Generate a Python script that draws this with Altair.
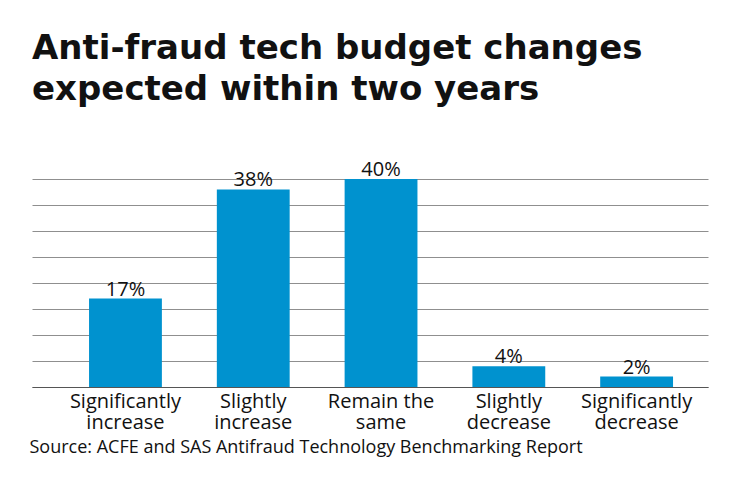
import altair as alt
import pandas as pd

categories = ["Significantly increase", "Slightly increase", "Remain the same",
              "Slightly decrease", "Significantly decrease"]
values = [17, 38, 40, 4, 2]
labels = ["17%", "38%", "40%", "4%", "2%"]

df = pd.DataFrame({"cat": categories, "val": values, "lab": labels})

FONT = "Open Sans"
BLUE = "#0092CF"

x = alt.X("cat:N", sort=categories,
          scale=alt.Scale(paddingInner=0.43, paddingOuter=0.36, align=0.62),
          axis=alt.Axis(title="Source: ACFE and SAS Antifraud Technology Benchmarking Report",
                        titleAnchor="start", titleX=-3, titleY=65, titleBaseline="alphabetic",
                        titleFont=FONT, titleFontSize=18, titleFontWeight="normal", titleColor="#111",
                        labelAngle=0, labelFont=FONT, labelFontSize=20, labelColor="#111",
                        labelLineHeight=21, labelPadding=4, ticks=False,
                        domainColor="#555", domainWidth=1,
                        labelExpr="[slice(datum.label,0,lastindexof(datum.label,' ')), slice(datum.label,lastindexof(datum.label,' ')+1)]"))
y = alt.Y("val:Q", scale=alt.Scale(domain=[0, 40], nice=False),
          axis=alt.Axis(title=None, values=[0, 5, 10, 15, 20, 25, 30, 35, 40], labels=False,
                        ticks=False, domain=False, grid=True, gridColor="#8f8f8f", gridWidth=1))

base = alt.Chart(df).encode(x=x, y=y)
bars = base.mark_bar(color=BLUE)
text = base.mark_text(baseline="alphabetic", dy=-3, font=FONT, fontSize=20, color="#111").encode(text="lab:N")

chart = alt.layer(bars, text).properties(
    width=676, height=208,
    autosize=alt.AutoSizeParams(type="none"),
    padding={"left": 24, "top": 171, "right": 16, "bottom": 87},
    title=alt.TitleParams(text=["Anti-fraud tech budget changes", "expected within two years"],
                          anchor="start", font="DejaVu Sans", fontSize=34, fontWeight="bold",
                          lineHeight=41, color="#111", offset=53, dx=3),
).configure_view(stroke=None)

chart.save("out.html", embed_options={"renderer": "svg", "actions": False})
